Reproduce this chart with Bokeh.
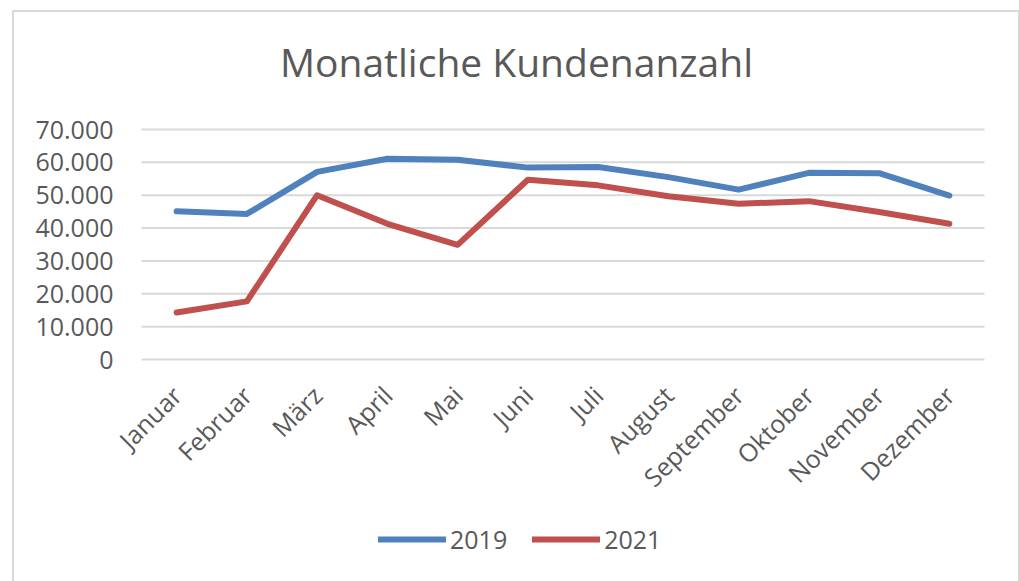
import math
from bokeh.plotting import figure
from bokeh.models import (FactorRange, Range1d, FixedTicker, Legend, LegendItem,
                          ColumnDataSource, Label)
from bokeh.core.properties import value
from bokeh.embed import file_html
from bokeh.resources import INLINE

months = ["Januar", "Februar", "März", "April", "Mai", "Juni", "Juli",
          "August", "September", "Oktober", "November", "Dezember"]
kunden_2019 = [45100, 44300, 57100, 61100, 60800, 58400, 58600, 55500, 51700, 56800, 56700, 49900]
kunden_2021 = [14300, 17700, 50000, 41300, 34900, 54700, 53000, 49700, 47400, 48200, 44900, 41300]
y_ticks = [0, 10000, 20000, 30000, 40000, 50000, 60000, 70000]
y_tick_labels = ["0", "10.000", "20.000", "30.000", "40.000", "50.000", "60.000", "70.000"]
title_text = "Monatliche Kundenanzahl"

TEXT = "#595959"
FONT = "Open Sans"
GRID = "#D9D9D9"

# layout (pixels): value axis spans 230 px for 0..70.000, with space above and below
PX_PER_UNIT = 230 / 70000
ABOVE_PX, BELOW_PX = 117, 222
y_lo = -BELOW_PX / PX_PER_UNIT
y_hi = 70000 + ABOVE_PX / PX_PER_UNIT

src = ColumnDataSource(dict(m=months, a=kunden_2019, b=kunden_2021))
# gridlines span the whole category band (synthetic coordinates 0 .. number of categories)
grid_src = ColumnDataSource(dict(y=y_ticks,
                                 x0=[0] * len(y_ticks),
                                 x1=[len(months)] * len(y_ticks)))

p = figure(x_range=FactorRange(*months, range_padding=0.37, range_padding_units="absolute"),
           y_range=Range1d(y_lo, y_hi),
           frame_width=895, frame_height=230 + ABOVE_PX + BELOW_PX,
           min_border_left=101, min_border_right=8,
           min_border_top=0, min_border_bottom=0,
           output_backend="svg", toolbar_location=None)
p.styles = {"border-top": "2px solid #D9D9D9", "border-left": "2px solid #D9D9D9",
            "border-right": "2px solid #D9D9D9"}
p.margin = (10, 0, 0, 12)
p.outline_line_color = None
p.background_fill_color = "white"
p.border_fill_color = "white"
p.xaxis.visible = False
p.xgrid.grid_line_color = None
p.ygrid.grid_line_color = None

p.segment(x0="x0", x1="x1", y0="y", y1="y", source=grid_src,
          line_color=GRID, line_width=2)

l1 = p.line("m", "a", source=src, line_color="#4F81BD", line_width=6, line_cap="round", line_join="round")
l2 = p.line("m", "b", source=src, line_color="#C0504D", line_width=6, line_cap="round", line_join="round")

# category labels, rotated 45 degrees below the zero line
p.text(x=months, y=0, text=months, angle=math.pi / 4,
       text_align="right", text_baseline="middle", y_offset=31,
       text_font=value(FONT), text_font_size="25px", text_color=TEXT)

p.yaxis.ticker = FixedTicker(ticks=y_ticks)
p.yaxis.major_label_overrides = {t: s for t, s in zip(y_ticks, y_tick_labels)}
p.yaxis.axis_line_color = None
p.yaxis.major_tick_line_color = None
p.yaxis.minor_tick_line_color = None
p.yaxis.major_tick_out = 0
p.yaxis.major_tick_in = 0
p.yaxis.major_label_standoff = 2
p.yaxis.major_label_text_font = FONT
p.yaxis.major_label_text_font_size = "25px"
p.yaxis.major_label_text_color = TEXT

title = Label(x=375 + 26, y=520, x_units="screen", y_units="screen", text=title_text,
              text_align="center", text_baseline="alphabetic",
              text_font=FONT, text_font_size="39px", text_color=TEXT)
p.add_layout(title)

legend = Legend(items=[LegendItem(label="2019", renderers=[l1]),
                       LegendItem(label="2021", renderers=[l2])],
                orientation="horizontal", location=(237 + 26, 25),
                padding=0, margin=0, spacing=25, glyph_width=68, glyph_height=30,
                label_height=30, label_standoff=4,
                label_text_font=FONT, label_text_font_size="25px",
                label_text_color=TEXT, background_fill_alpha=0,
                border_line_color=None)
p.add_layout(legend, "center")

open("out.html", "w").write(file_html(p, INLINE))
